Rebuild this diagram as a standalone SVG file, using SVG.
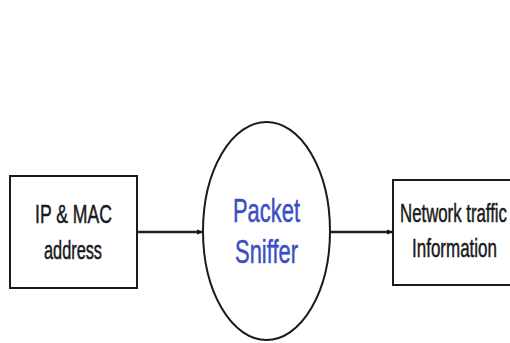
<svg xmlns="http://www.w3.org/2000/svg" width="510" height="343" viewBox="0 0 510 343">
<defs>
<marker id="arr" markerWidth="6" markerHeight="6" refX="5" refY="3" orient="auto" markerUnits="userSpaceOnUse">
<path d="M0,0.5 L6,3 L0,5.5 Z" fill="#111"/>
</marker>
</defs>
<style>
.shape{fill:#fff;stroke:#1a1a1a;stroke-width:2}
.lbl{font-family:"Liberation Sans",Arial,sans-serif;font-size:25px;fill:#1a1a1a;stroke:#1a1a1a;stroke-width:0.5;text-anchor:middle}
.blue{font-family:"Liberation Sans",Arial,sans-serif;font-size:33px;fill:#3b4fc4;stroke:#3b4fc4;stroke-width:0.5;text-anchor:middle}
.conn{stroke:#222;stroke-width:2.5;fill:none}
</style>
<rect width="510" height="343" fill="#fff"/>
<g id="connectors">
<line class="conn" x1="137" y1="232" x2="202" y2="232" marker-end="url(#arr)"/>
<line class="conn" x1="330" y1="232" x2="392" y2="232" marker-end="url(#arr)"/>
</g>
<g id="ip-mac">
<rect class="shape" x="10" y="176" width="127" height="112"/>
<text class="lbl" x="73.5" y="223" textLength="77" lengthAdjust="spacingAndGlyphs">IP &amp; MAC</text>
<text class="lbl" x="73" y="259" textLength="58" lengthAdjust="spacingAndGlyphs">address</text>
</g>
<g id="packet-sniffer">
<ellipse class="shape" cx="266.5" cy="231" rx="63.5" ry="109"/>
<text class="blue" x="266.5" y="222" textLength="67" lengthAdjust="spacingAndGlyphs">Packet</text>
<text class="blue" x="266.5" y="263" textLength="63" lengthAdjust="spacingAndGlyphs">Sniffer</text>
</g>
<g id="network-traffic">
<rect class="shape" x="393" y="180" width="124" height="105"/>
<text class="lbl" x="453.5" y="222" textLength="107" lengthAdjust="spacingAndGlyphs">Network traffic</text>
<text class="lbl" x="454.5" y="257" textLength="85" lengthAdjust="spacingAndGlyphs">Information</text>
</g>
</svg>
